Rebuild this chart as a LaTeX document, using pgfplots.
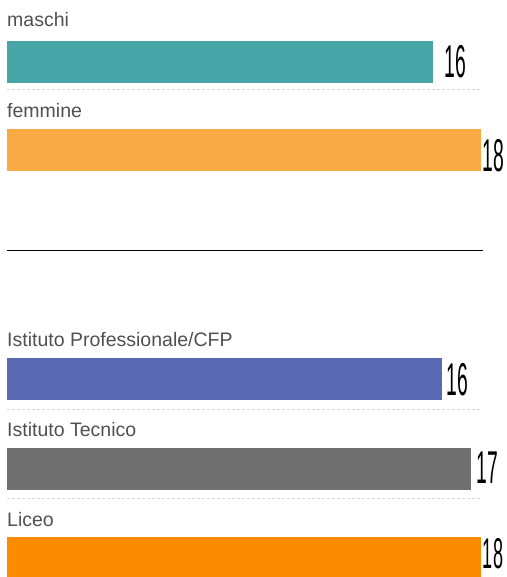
\documentclass[border=0pt]{standalone}
\usepackage{pgfplots}
\pgfplotsset{compat=1.18}
\usepackage{fontspec}
\setmainfont{Liberation Sans}
\definecolor{cteal}{HTML}{48A6A9}
\definecolor{clor}{HTML}{F9AA45}
\definecolor{cblue}{HTML}{5B69B4}
\definecolor{cgray}{HTML}{707070}
\definecolor{cor}{HTML}{FB8C00}
\definecolor{ctext}{HTML}{505050}
\begin{document}
\begin{tikzpicture}
\begin{axis}[
  scale only axis, width=506pt, height=577pt,
  xmin=-7, xmax=499, ymin=0, ymax=577, y dir=reverse,
  hide axis, clip=true,
  xbar, bar width=42, bar shift=0pt,
]
% values: bar lengths (maschi, femmine | professionale, tecnico, liceo)
\addplot[fill=cteal, draw=none] coordinates {(426,62)};
\addplot[fill=clor, draw=none] coordinates {(474,150.5)};
\addplot[fill=cblue, draw=none] coordinates {(435,379)};
\addplot[fill=cgray, draw=none] coordinates {(464,468.5)};
\addplot[fill=cor, draw=none] coordinates {(474,558)};
\draw[black!15, densely dashed, line width=1pt] (axis cs:0,90) -- (axis cs:475,90);
\draw[black!15, densely dashed, line width=1pt] (axis cs:0,409) -- (axis cs:475,409);
\draw[black!15, densely dashed, line width=1pt] (axis cs:0,498) -- (axis cs:475,498);
\draw[black, line width=0.8pt] (axis cs:0,250) -- (axis cs:476,250);
\tikzset{lab/.style={anchor=base west, inner sep=0pt, text=ctext, font=\fontsize{19.5}{19.5}\selectfont}}
\node[lab] at (axis cs:0,27) {maschi};
\node[lab] at (axis cs:0,118) {femmine};
\node[lab] at (axis cs:0,346) {Istituto Professionale/CFP};
\node[lab] at (axis cs:0,436) {Istituto Tecnico};
\node[lab] at (axis cs:0,526) {Liceo};
\tikzset{hw/.style={anchor=center, inner sep=0pt, xscale=0.42, font=\fontsize{46}{46}\selectfont}}
\node[hw] at (axis cs:448,62) {16};
\node[hw] at (axis cs:486,156) {18};
\node[hw] at (axis cs:450,380) {16};
\node[hw] at (axis cs:480,468) {17};
\node[hw, font=\fontsize{43}{43}\selectfont] at (axis cs:486,554) {18};
\end{axis}
\pgfresetboundingbox
\path (0,0) rectangle (506pt,577pt);
\end{tikzpicture}
\end{document}
